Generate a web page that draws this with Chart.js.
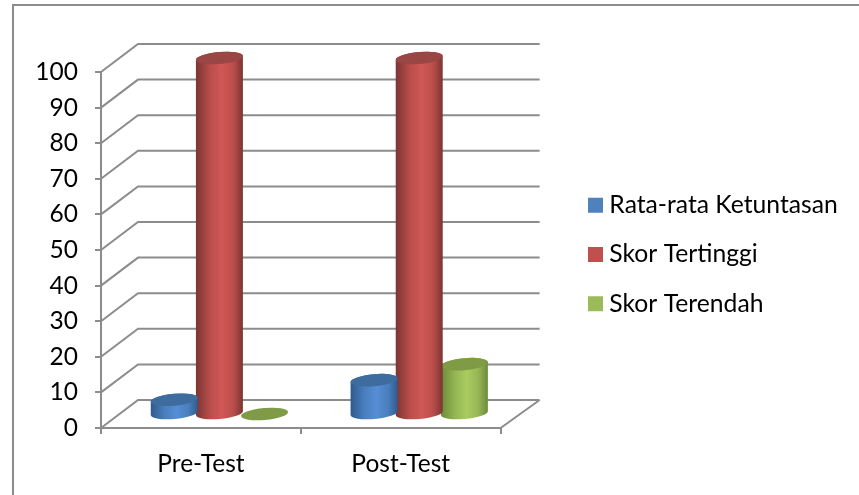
<!DOCTYPE html>
<html>
<head>
<meta charset="utf-8">
<script src="https://cdn.jsdelivr.net/npm/chart.js@4"></script>
<style>
  html, body { margin: 0; padding: 0; background: #fff; overflow: hidden; }
  #wrap { position: relative; width: 859px; height: 495px; }
  #frame { position: absolute; left: 12px; top: 4px; width: 847px; height: 491px; border-left: 2px solid #8c8c8c; border-top: 2px solid #8c8c8c; box-sizing: border-box; }
  canvas { position: absolute; left: 0; top: 0; }
</style>
</head>
<body>
<div id="wrap">
  <div id="frame"></div>
  <canvas id="chart" width="859" height="495"></canvas>
</div>
<script>
const categories = ["Pre-Test", "Post-Test"];
const rataRata = [4, 9.5];
const skorTertinggi = [100, 100];
const skorTerendah = [0, 14];
const yTicks = [0, 10, 20, 30, 40, 50, 60, 70, 80, 90, 100];

// 3D look: depth of the floor in pixels
const depthX = 37;
const depthY = 28;
const gridColor = "#8c8c8c";

// edge, shoulder, middle and top colours of each cylinder
const shades = [
  { edge: "#2f5a8e", body: "#4a7fbd", mid: "#558ed5", top: "#3f6c9e" },
  { edge: "#7a3533", body: "#b94d4a", mid: "#d05856", top: "#9a4644" },
  { edge: "#6c8a39", body: "#95b654", mid: "#a9cb60", top: "#7f9b46" }
];

// walls and floor go behind the bars
const wallsPlugin = {
  id: "walls",
  beforeDatasetsDraw(chart) {
    const { ctx, chartArea, scales } = chart;
    ctx.save();
    ctx.strokeStyle = gridColor;
    ctx.lineWidth = 2;
    ctx.beginPath();
    yTicks.forEach((t) => {
      const y = scales.y.getPixelForValue(t);
      ctx.moveTo(chartArea.left, y);
      ctx.lineTo(chartArea.left + depthX, y - depthY);
      ctx.lineTo(chartArea.right + depthX + 2, y - depthY);
    });
    const y0 = scales.y.getPixelForValue(0);
    ctx.moveTo(chartArea.right, y0);
    ctx.lineTo(chartArea.right + depthX + 2, y0 - depthY);
    ctx.stroke();
    ctx.restore();
  }
};

// replaces the flat bars with cylinders, placed with the library's own bar coordinates
const cylinderPlugin = {
  id: "cylinders",
  beforeDatasetDraw(chart, args) {
    const { ctx } = chart;
    const shade = shades[args.index];
    const rot = -5 * Math.PI / 180;
    args.meta.data.forEach((bar) => {
      const props = bar.getProps(["x", "y", "base", "width"], true);
      const cx = props.x + depthX / 2;
      const rx = props.width / 2 + 1;
      const ry = 6;
      const baseY = props.base - depthY / 2;
      const topY = props.y - depthY / 2;
      const grad = ctx.createLinearGradient(cx - rx, 0, cx + rx, 0);
      grad.addColorStop(0, shade.edge);
      grad.addColorStop(0.3, shade.body);
      grad.addColorStop(0.55, shade.mid);
      grad.addColorStop(0.8, shade.body);
      grad.addColorStop(1, shade.edge);
      ctx.save();
      if (baseY - topY > 0.5) {
        ctx.fillStyle = grad;
        ctx.beginPath();
        ctx.ellipse(cx, baseY, rx, ry, rot, 0, Math.PI);
        ctx.ellipse(cx, topY, rx, ry, rot, Math.PI, Math.PI * 2);
        ctx.closePath();
        ctx.fill();
      }
      ctx.fillStyle = shade.top;
      ctx.beginPath();
      ctx.ellipse(cx, topY, rx, ry, rot, 0, Math.PI * 2);
      ctx.fill();
      ctx.restore();
    });
    return false;
  }
};

// legend sits well clear of the plot, so move it after layout
const legendSpot = { left: 569.5, top: -18 };
const legendPlugin = {
  id: "legendSpot",
  afterLayout(chart) {
    const l = chart.legend;
    l.left = legendSpot.left;
    l.right = chart.width;
    l.top += legendSpot.top;
    l.bottom += legendSpot.top;
  }
};

new Chart(document.getElementById("chart"), {
  type: "bar",
  data: {
    labels: categories,
    datasets: [
      { label: "Rata-rata Ketuntasan", data: rataRata, backgroundColor: "#4f81bd" },
      { label: "Skor Tertinggi", data: skorTertinggi, backgroundColor: "#c0504d" },
      { label: "Skor Terendah", data: skorTerendah, backgroundColor: "#9bbb59" }
    ]
  },
  plugins: [wallsPlugin, cylinderPlugin, legendPlugin],
  options: {
    responsive: false,
    animation: false,
    layout: { padding: { top: 72, left: 0, right: 191.5, bottom: 22 } },
    datasets: { bar: { barPercentage: 1, categoryPercentage: 0.678 } },
    plugins: {
      tooltip: { enabled: false },
      legend: {
        position: "right",
        labels: {
          // narrow boxWidth pulls the text closer to the 15px square swatch
          usePointStyle: true,
          pointStyle: "rect",
          boxWidth: 3,
          boxHeight: 15,
          padding: 24.5,
          color: "#000",
          font: { family: "Lato", size: 24.7 }
        }
      }
    },
    scales: {
      x: {
        grid: { drawOnChartArea: false, color: gridColor, lineWidth: 2, tickLength: 6 },
        border: { color: gridColor, width: 2 },
        ticks: { color: "#000", padding: 15, font: { family: "Lato", size: 24.5 }, maxRotation: 0 },
        afterFit(scale) { scale.height = 45; }
      },
      y: {
        min: 0,
        max: 100,
        afterBuildTicks(scale) { scale.ticks = yTicks.map((v) => ({ value: v })); },
        grid: { drawOnChartArea: false, color: gridColor, lineWidth: 2, tickLength: 6 },
        border: { color: gridColor, width: 2 },
        ticks: { color: "#000", padding: 17, font: { family: "Lato", size: 24.5 } },
        afterFit(scale) { scale.width = 101; }
      }
    }
  }
});
</script>
</body>
</html>
